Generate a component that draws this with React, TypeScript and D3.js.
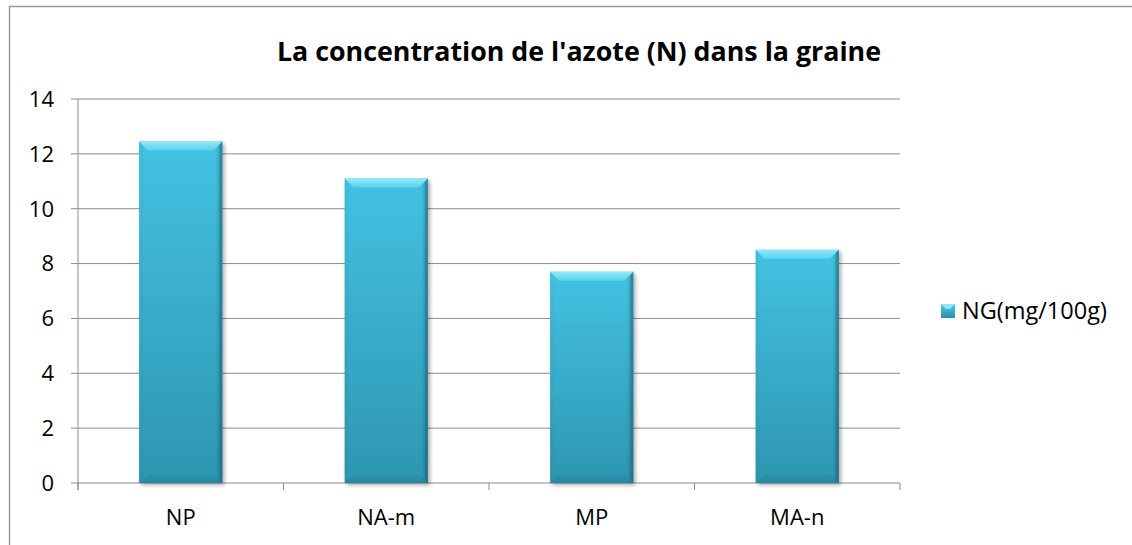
import React from "react";
import * as d3 from "d3";

const categories = ["NP", "NA-m", "MP", "MA-n"];
const values = [12.45, 11.1, 7.7, 8.5];
const yTicks = [0, 2, 4, 6, 8, 10, 12, 14];
const seriesName = "NG(mg/100g)";
const title = "La concentration de l'azote (N) dans la graine";

const W = 1132;
const H = 545;
const plot = { left: 78, right: 900, top: 99, bottom: 483 };
const FONT = "'Open Sans', 'Noto Sans', sans-serif";

export default function App() {
  const x = d3.scaleBand<string>().domain(categories).range([plot.left, plot.right]).padding(0);
  const y = d3.scaleLinear().domain([0, 14]).range([plot.bottom, plot.top]);
  const bw = x.bandwidth() * 0.405;
  const bevel = 9;
  const bounds = [plot.left, ...categories.map((c) => (x(c) as number) + x.bandwidth())];

  return (
    <div style={{ position: "absolute", left: 0, top: 0 }}>
      <svg width={W} height={H} style={{ display: "block" }}>
        <defs>
          <linearGradient id="barV" x1="0" y1="0" x2="0" y2="1">
            <stop offset="0%" stopColor="#44c2e3" />
            <stop offset="100%" stopColor="#2d96b1" />
          </linearGradient>
          <linearGradient id="barH" x1="0" y1="0" x2="1" y2="0">
            <stop offset="0%" stopColor="#000" stopOpacity="0.05" />
            <stop offset="6%" stopColor="#000" stopOpacity="0" />
            <stop offset="92%" stopColor="#000" stopOpacity="0" />
            <stop offset="100%" stopColor="#000" stopOpacity="0.22" />
          </linearGradient>
          <linearGradient id="topBevel" x1="0" y1="0" x2="0" y2="1">
            <stop offset="0%" stopColor="#90e8f9" />
            <stop offset="100%" stopColor="#58d2ef" />
          </linearGradient>
          <linearGradient id="botBevel" x1="0" y1="0" x2="0" y2="1">
            <stop offset="0%" stopColor="#2a8ea8" />
            <stop offset="100%" stopColor="#237f97" />
          </linearGradient>
          <linearGradient id="legG" x1="0" y1="0" x2="0" y2="1">
            <stop offset="0%" stopColor="#4cc8e8" />
            <stop offset="100%" stopColor="#2a8fab" />
          </linearGradient>
          <filter id="shadow" x="-10%" y="-10%" width="130%" height="130%">
            <feGaussianBlur in="SourceAlpha" stdDeviation="2" />
            <feOffset dx="2" dy="2" result="ob" />
            <feComponentTransfer>
              <feFuncA type="linear" slope="0.35" />
            </feComponentTransfer>
            <feMerge>
              <feMergeNode />
              <feMergeNode in="SourceGraphic" />
            </feMerge>
          </filter>
        </defs>
        <rect x={0} y={0} width={W} height={H} fill="#fff" />
        <path d={`M9.5,${H} L9.5,6.5 L${W},6.5`} fill="none" stroke="#9a9a9a" strokeWidth={1.5} />

        <text x={579} y={61} textAnchor="middle" fontFamily={FONT} fontWeight="bold" fontSize={26.8} fill="#000">
          {title}
        </text>

        {yTicks.map((t) => (
          <g key={t}>
            <line x1={plot.left - 7} x2={plot.right} y1={y(t)} y2={y(t)} stroke="#8c8c8c" strokeWidth={1} />
            <text x={54} y={y(t)} dy="0.36em" textAnchor="end" fontFamily={FONT} fontSize={22} fill="#000">
              {t}
            </text>
          </g>
        ))}
        <line x1={plot.left} x2={plot.left} y1={plot.top} y2={plot.bottom + 7} stroke="#8c8c8c" />
        {bounds.map((b, i) => (
          <line key={i} x1={b} x2={b} y1={plot.bottom} y2={plot.bottom + 7} stroke="#8c8c8c" />
        ))}

        {categories.map((c, i) => {
          const cx = (x(c) as number) + x.bandwidth() / 2;
          const x0 = cx - bw / 2;
          const y0 = y(values[i]);
          const h = y(0) - y0;
          return (
            <g key={c}>
              <g filter="url(#shadow)">
                <rect x={x0} y={y0} width={bw} height={h} fill="url(#barV)" />
              </g>
              <rect x={x0} y={y0} width={bw} height={h} fill="url(#barH)" />
              <path
                d={`M${x0},${y0} L${x0 + bw},${y0} L${x0 + bw - bevel},${y0 + bevel} L${x0 + bevel},${y0 + bevel} Z`}
                fill="url(#topBevel)"
              />
              <path
                d={`M${x0},${y0 + h} L${x0 + bw},${y0 + h} L${x0 + bw - bevel},${y0 + h - bevel} L${x0 + bevel},${y0 + h - bevel} Z`}
                fill="url(#botBevel)"
                opacity={0.6}
              />
              <path
                d={`M${x0 + bw},${y0} L${x0 + bw},${y0 + h} L${x0 + bw - 3},${y0 + h - 3} L${x0 + bw - 3},${y0 + 3} Z`}
                fill="#1f6f84"
                opacity={0.45}
              />
              <text x={cx} y={517} dy="0.36em" textAnchor="middle" fontFamily={FONT} fontSize={22} fill="#000">
                {c}
              </text>
            </g>
          );
        })}

        <rect x={941} y={304} width={14} height={14} fill="url(#legG)" />
        <path d="M941,304 L955,304 L950,309 L946,309 Z" fill="#8ee6f8" />
        <text x={962} y={311} dy="0.36em" fontFamily={FONT} fontSize={23.5} fill="#000">
          {seriesName}
        </text>
      </svg>
    </div>
  );
}
